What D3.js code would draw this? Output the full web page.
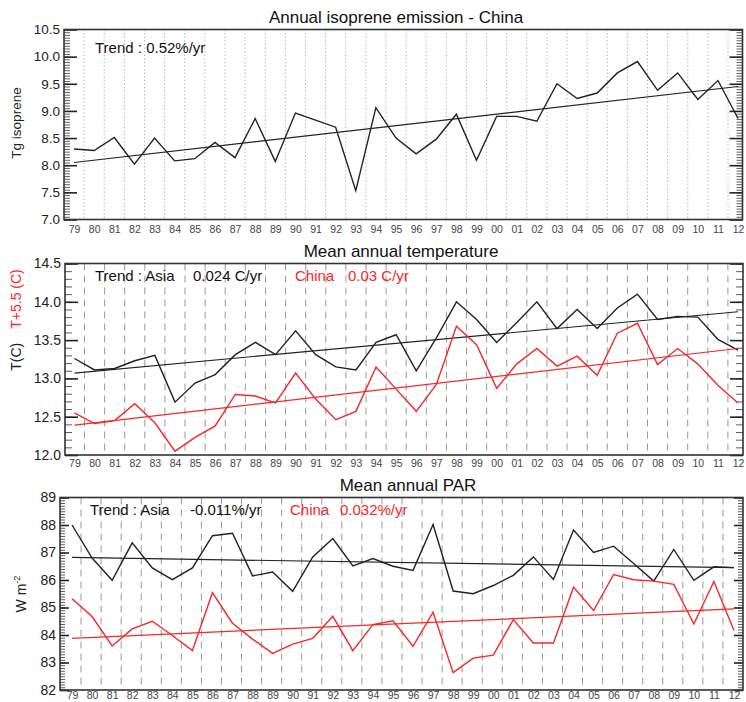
<!DOCTYPE html>
<html><head><meta charset="utf-8">
<script src="https://cdn.jsdelivr.net/npm/d3@7"></script>
<style>
body{margin:0;background:#fff;}
svg{display:block;font-family:"Liberation Sans",Arial,Helvetica,sans-serif;}
</style></head>
<body><svg id="c" width="746" height="702"></svg>
<script>
// ---- data ----
const yearLabels = ["79","80","81","82","83","84","85","86","87","88","89","90","91","92","93","94","95","96","97","98","99","00","01","02","03","04","05","06","07","08","09","10","11","12"];

const isopreneChina = [8.30,8.27,8.51,8.02,8.50,8.08,8.12,8.42,8.14,8.86,8.07,8.96,8.83,8.70,7.53,9.06,8.50,8.21,8.48,8.94,8.09,8.90,8.90,8.81,9.50,9.23,9.33,9.70,9.91,9.38,9.70,9.21,9.56,8.86];
const isopreneTrend = [8.05, 9.45];           // trend line value at 79 and at 12

const tempAsia  = [13.26,13.11,13.13,13.23,13.30,12.69,12.94,13.05,13.31,13.47,13.31,13.62,13.31,13.15,13.11,13.47,13.57,13.10,13.53,14.00,13.77,13.47,13.73,14.00,13.65,13.90,13.65,13.92,14.10,13.77,13.81,13.80,13.51,13.37];
const tempChina = [12.55,12.41,12.45,12.67,12.42,12.05,12.23,12.38,12.79,12.77,12.68,13.07,12.73,12.46,12.57,13.15,12.86,12.57,12.92,13.68,13.44,12.87,13.19,13.39,13.16,13.29,13.04,13.59,13.72,13.18,13.39,13.19,12.91,12.68];
const tempAsiaTrend  = [13.07, 13.87];
const tempChinaTrend = [12.39, 13.39];

const parAsia  = [88.00,86.80,85.99,87.35,86.44,86.01,86.44,87.61,87.70,86.15,86.29,85.59,86.84,87.51,86.51,86.78,86.50,86.35,88.02,85.60,85.50,85.80,86.17,86.84,86.02,87.82,87.00,87.23,86.60,85.96,87.11,85.99,86.48,86.45];
const parChina = [85.32,84.67,83.60,84.22,84.50,83.98,83.43,85.54,84.43,83.85,83.33,83.67,83.88,84.68,83.43,84.38,84.52,83.59,84.83,82.63,83.16,83.27,84.56,83.71,83.71,85.74,84.89,86.20,86.01,85.96,85.84,84.40,85.95,84.16];
const parAsiaTrend  = [86.82, 86.45];
const parChinaTrend = [83.88, 84.95];

const isoTicks  = [7.0,7.5,8.0,8.5,9.0,9.5,10.0,10.5];
const tempTicks = [12.0,12.5,13.0,13.5,14.0,14.5];
const parTicks  = [82,83,84,85,86,87,88,89];

// ---- drawing ----
const svg = d3.select("#c");
const BLACK = "#222", RED = "#f52828";
const FONT = "'Liberation Sans',Arial,Helvetica,sans-serif";

function panel(cfg){
  const g = svg.append("g");
  const x = d3.scaleLinear().domain(cfg.xdom).range([cfg.left, cfg.right]);
  const y = d3.scaleLinear().domain(cfg.ydom).range([cfg.bottom, cfg.top]);
  const idx = yearLabels.map((d,i)=>i);

  // vertical grid lines
  g.append("g").selectAll("line").data(idx.slice(0, idx.length-1)).join("line")
    .attr("x1", i=>x(i+cfg.gridOff)).attr("x2", i=>x(i+cfg.gridOff))
    .attr("y1", cfg.top).attr("y2", cfg.bottom)
    .attr("stroke", cfg.gridColor).attr("stroke-width", cfg.gridWidth)
    .attr("stroke-dasharray", cfg.gridDash);

  // minor ticks left/right
  const minorVals = d3.range(cfg.ydom[0], cfg.ydom[1]+1e-9, cfg.minorStep);
  g.append("g").attr("transform",`translate(${cfg.left},0)`)
    .call(d3.axisLeft(y).tickValues(minorVals).tickSize(-cfg.minorLen).tickFormat(""))
    .call(a=>a.select(".domain").remove())
    .selectAll("line").attr("stroke","#333").attr("stroke-width",0.8);
  g.append("g").attr("transform",`translate(${cfg.right},0)`)
    .call(d3.axisRight(y).tickValues(minorVals).tickSize(-cfg.minorLen).tickFormat(""))
    .call(a=>a.select(".domain").remove())
    .selectAll("line").attr("stroke","#333").attr("stroke-width",0.8);

  // major ticks with labels
  const ax = g.append("g").attr("transform",`translate(${cfg.left},0)`)
    .call(d3.axisLeft(y).tickValues(cfg.ticks).tickSize(-cfg.majorLen).tickPadding(4+0)
      .tickFormat(cfg.fmt));
  ax.select(".domain").remove();
  ax.selectAll("line").attr("stroke","#222").attr("stroke-width",1.6);
  ax.selectAll("text").attr("x",-4).attr("font-size",cfg.yFont).attr("fill","#222").attr("font-family",FONT);
  g.append("g").attr("transform",`translate(${cfg.right},0)`)
    .call(d3.axisRight(y).tickValues(cfg.ticks).tickSize(-cfg.majorLen).tickFormat(""))
    .call(a=>a.select(".domain").remove())
    .selectAll("line").attr("stroke","#222").attr("stroke-width",1.6);

  // x labels
  const xa = g.append("g").attr("transform",`translate(0,${cfg.bottom})`)
    .call(d3.axisBottom(x).tickValues(idx).tickSize(0).tickPadding(cfg.xPad).tickFormat(i=>yearLabels[i]));
  xa.select(".domain").remove();
  xa.selectAll("text").attr("font-size",10.5).attr("fill","#444").attr("font-family",FONT);

  // series
  const line = d3.line().x((d,i)=>x(i)).y(d=>y(d));
  cfg.series.forEach(s=>{
    g.append("path").datum(s.values).attr("d", line).attr("fill","none")
      .attr("stroke", s.color).attr("stroke-width",1.4).attr("stroke-linejoin","miter");
    g.append("line").attr("x1",x(0)).attr("x2",x(idx.length-1))
      .attr("y1",y(s.trend[0])).attr("y2",y(s.trend[1]))
      .attr("stroke", s.color).attr("stroke-width",1.2);
  });

  // frame
  g.append("rect").attr("x",cfg.left).attr("y",cfg.top)
    .attr("width",cfg.right-cfg.left).attr("height",cfg.bottom-cfg.top)
    .attr("fill","none").attr("stroke","#333").attr("stroke-width",1.6);

  // title
  g.append("text").attr("x",cfg.titleX).attr("y",cfg.top-7).attr("text-anchor","middle")
    .attr("font-size",17).attr("fill","#111").text(cfg.title);

  // annotations
  cfg.notes.forEach(n=>{
    g.append("text").attr("x",n.x).attr("y",n.y).attr("font-size",15)
      .attr("fill",n.color).text(n.text);
  });
  return {g,x,y};
}

panel({
  left:64, right:742.5, top:29.5, bottom:219.5, xdom:[-0.5,33.22], ydom:[7,10.5],
  ticks:isoTicks, fmt:d3.format(".1f"), minorStep:0.05, minorLen:6, majorLen:13, yFont:13.5,
  gridOff:0.5, gridColor:"#aaa", gridWidth:1, gridDash:"1.2,2.4", xPad:6,
  title:"Annual isoprene emission - China", titleX:396,
  series:[{values:isopreneChina, trend:isopreneTrend, color:BLACK}],
  notes:[{x:95,y:53,text:"Trend : 0.52%/yr",color:"#111"}]
});

panel({
  left:65, right:743, top:263.5, bottom:455, xdom:[-0.47,33.25], ydom:[12,14.5],
  ticks:tempTicks, fmt:d3.format(".1f"), minorStep:0.1, minorLen:7, majorLen:13, yFont:14,
  gridOff:0.5, gridColor:"#999", gridWidth:1, gridDash:"7,5", xPad:5,
  title:"Mean annual temperature", titleX:401,
  series:[{values:tempAsia, trend:tempAsiaTrend, color:BLACK},
          {values:tempChina, trend:tempChinaTrend, color:RED}],
  notes:[{x:95,y:281,text:"Trend : Asia",color:"#111"},
         {x:193,y:281,text:"0.024 C/yr",color:"#111"},
         {x:295,y:281,text:"China",color:RED},
         {x:348,y:281,text:"0.03 C/yr",color:RED}]
});

panel({
  left:60, right:743, top:497.5, bottom:690, xdom:[-0.6,33.45], ydom:[82,89],
  ticks:parTicks, fmt:d3.format("d"), minorStep:0.1, minorLen:5, majorLen:9, yFont:14,
  gridOff:0.45, gridColor:"#999", gridWidth:1, gridDash:"7,5", xPad:2,
  title:"Mean annual PAR", titleX:408,
  series:[{values:parAsia, trend:parAsiaTrend, color:BLACK},
          {values:parChina, trend:parChinaTrend, color:RED}],
  notes:[{x:90,y:515,text:"Trend : Asia",color:"#111"},
         {x:190,y:515,text:"-0.011%/yr",color:"#111"},
         {x:290,y:515,text:"China",color:RED},
         {x:340,y:515,text:"0.032%/yr",color:RED}]
});

// y-axis titles
svg.append("text").attr("transform","translate(21,123) rotate(-90)").attr("text-anchor","middle")
  .attr("font-size",13.5).attr("fill","#222").text("Tg isoprene");
const t2 = svg.append("text").attr("transform","translate(21,320) rotate(-90)").attr("text-anchor","middle")
  .attr("font-size",14);
t2.append("tspan").attr("fill","#222").text("T(C)");
t2.append("tspan").attr("fill",RED).attr("dx",14).text("T+5.5 (C)");
const t3 = svg.append("text").attr("transform","translate(26,594) rotate(-90)").attr("text-anchor","middle")
  .attr("font-size",14).attr("fill","#222");
t3.append("tspan").text("W m");
t3.append("tspan").attr("dy",-6).attr("font-size",9).text("-2");
</script></body></html>
